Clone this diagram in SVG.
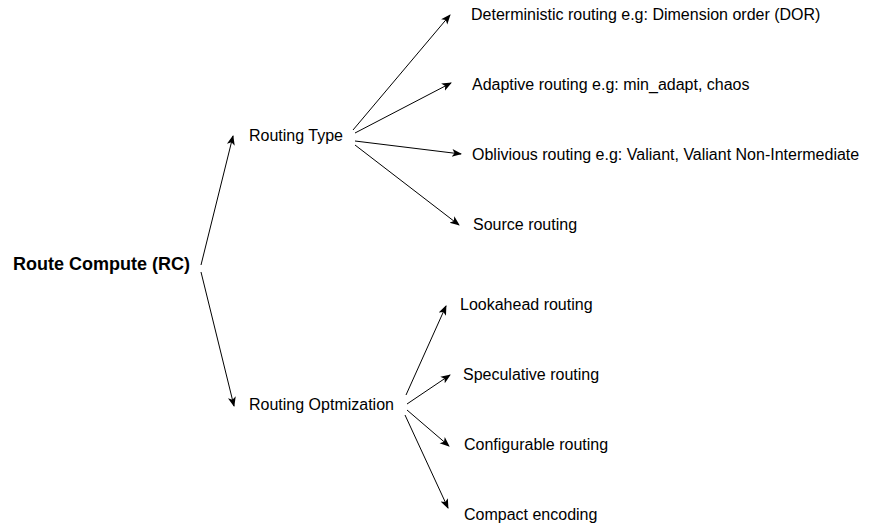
<svg xmlns="http://www.w3.org/2000/svg" width="870" height="530" viewBox="0 0 870 530">
<style>
text{font-family:"Liberation Sans",Arial,sans-serif;font-size:16px;fill:#000}
.b{font-weight:bold;font-size:18px}
#connectors line{stroke:#000;stroke-width:1;marker-end:url(#ah)}
</style>
<defs>
<marker id="ah" viewBox="0 0 10 10" refX="9" refY="5" markerWidth="10" markerHeight="10" markerUnits="userSpaceOnUse" orient="auto">
<path d="M0,1 L10,5 L0,9 L2.5,5 z" fill="#000"/>
</marker>
</defs>
<rect width="870" height="530" fill="#fff"/>
<g id="connectors">
<line x1="201" y1="265" x2="233" y2="136"/>
<line x1="201" y1="272" x2="234" y2="406"/>
<line x1="353" y1="130" x2="450" y2="15"/>
<line x1="355" y1="133" x2="451" y2="83"/>
<line x1="355" y1="141" x2="461" y2="154"/>
<line x1="355" y1="145" x2="459" y2="225"/>
<line x1="406" y1="395" x2="446" y2="306"/>
<line x1="407" y1="404" x2="450" y2="375"/>
<line x1="407" y1="410" x2="449" y2="446"/>
<line x1="405" y1="415" x2="448" y2="508"/>
</g>
<g id="root"><text class="b" x="13" y="270">Route Compute (RC)</text></g>
<g id="routing-type"><text x="249" y="141">Routing Type</text></g>
<g id="routing-opt"><text x="249" y="410">Routing Optmization</text></g>
<g id="deterministic"><text x="471" y="20">Deterministic routing e.g: Dimension order (DOR)</text></g>
<g id="adaptive"><text x="472" y="90">Adaptive routing e.g: min_adapt, chaos</text></g>
<g id="oblivious"><text x="472" y="160">Oblivious routing e.g: Valiant, Valiant Non-Intermediate</text></g>
<g id="source"><text x="473" y="230">Source routing</text></g>
<g id="lookahead"><text x="460" y="310">Lookahead routing</text></g>
<g id="speculative"><text x="463" y="380">Speculative routing</text></g>
<g id="configurable"><text x="464" y="450">Configurable routing</text></g>
<g id="compact"><text x="464" y="520">Compact encoding</text></g>
</svg>
